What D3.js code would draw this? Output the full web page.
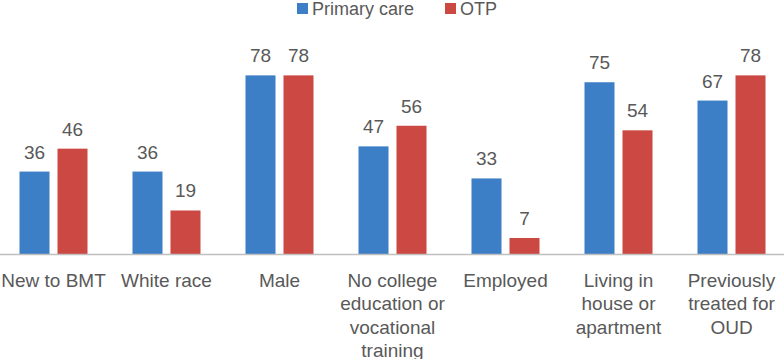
<!DOCTYPE html>
<html lang="en">
<head>
    <meta charset="UTF-8">
    <title>Primary care vs OTP</title>
    <script src="https://d3js.org/d3.v7.min.js"></script>
    <style>
        body { margin: 0; background: #fff; }
        text { font-family: 'Liberation Sans', 'Helvetica', 'Arial', sans-serif; fill: #595959; }
    </style>
</head>
<body>
    <div id="chart"></div>
    <script>
        // data
        const categories = [
            ["New to BMT"],
            ["White race"],
            ["Male"],
            ["No college", "education or", "vocational", "training"],
            ["Employed"],
            ["Living in", "house or", "apartment"],
            ["Previously", "treated for", "OUD"]
        ];
        const seriesNames = ["Primary care", "OTP"];
        const primaryCare = [36, 36, 78, 47, 33, 75, 67];
        const otp = [46, 19, 78, 56, 7, 54, 78];
        const colors = ["#3d7fc6", "#cc4842"];

        const width = 784, height = 359;
        const baseline = 254;

        const svg = d3.select("#chart")
            .append("svg")
            .attr("width", width)
            .attr("height", height);

        const keys = categories.map(d => d.join(" "));
        const rows = keys.map((k, i) => ({key: k, lines: categories[i], values: [primaryCare[i], otp[i]]}));

        // group scale
        const x0 = d3.scaleBand()
            .domain(keys)
            .range([-3, 788]);

        // bars inside a group
        const x1 = d3.scaleBand()
            .domain(seriesNames)
            .range([22.5, 90.5])
            .paddingInner(0.2105);

        const y = d3.scaleLinear()
            .domain([0, 100])
            .range([baseline, 25]);

        const groups = svg.selectAll("g.group")
            .data(rows)
            .join("g")
            .attr("class", "group")
            .attr("transform", d => `translate(${x0(d.key)},0)`);

        groups.selectAll("rect")
            .data(d => d.values.map((v, j) => ({name: seriesNames[j], value: v, j: j})))
            .join("rect")
            .attr("x", d => x1(d.name))
            .attr("y", d => y(d.value))
            .attr("width", x1.bandwidth())
            .attr("height", d => baseline - y(d.value))
            .style("fill", d => colors[d.j]);

        groups.selectAll("text.val")
            .data(d => d.values.map((v, j) => ({name: seriesNames[j], value: v})))
            .join("text")
            .attr("class", "val")
            .attr("x", d => x1(d.name) + x1.bandwidth() / 2)
            .attr("y", d => y(d.value) - 13)
            .attr("text-anchor", "middle")
            .style("font-size", "19px")
            .text(d => d.value);

        // axis line
        svg.append("line")
            .attr("x1", 0).attr("x2", width)
            .attr("y1", baseline + 0.5).attr("y2", baseline + 0.5)
            .style("stroke", "#bfbfbf")
            .style("stroke-width", 1.5);

        // category labels
        groups.append("text")
            .attr("class", "cat")
            .attr("text-anchor", "middle")
            .style("font-size", "19px")
            .selectAll("tspan")
            .data(d => d.lines)
            .join("tspan")
            .attr("x", x0.bandwidth() / 2)
            .attr("y", (d, i) => 287 + i * 23.3)
            .text(d => d);

        // legend
        const legend = svg.append("g").attr("class", "legend");
        const legendX = [297, 445];
        seriesNames.forEach((name, i) => {
            legend.append("rect")
                .attr("x", legendX[i]).attr("y", 3)
                .attr("width", 11).attr("height", 11)
                .style("fill", colors[i]);
            legend.append("text")
                .attr("x", legendX[i] + 15).attr("y", 15)
                .style("font-size", "18px")
                .text(name);
        });
    </script>
</body>
</html>
